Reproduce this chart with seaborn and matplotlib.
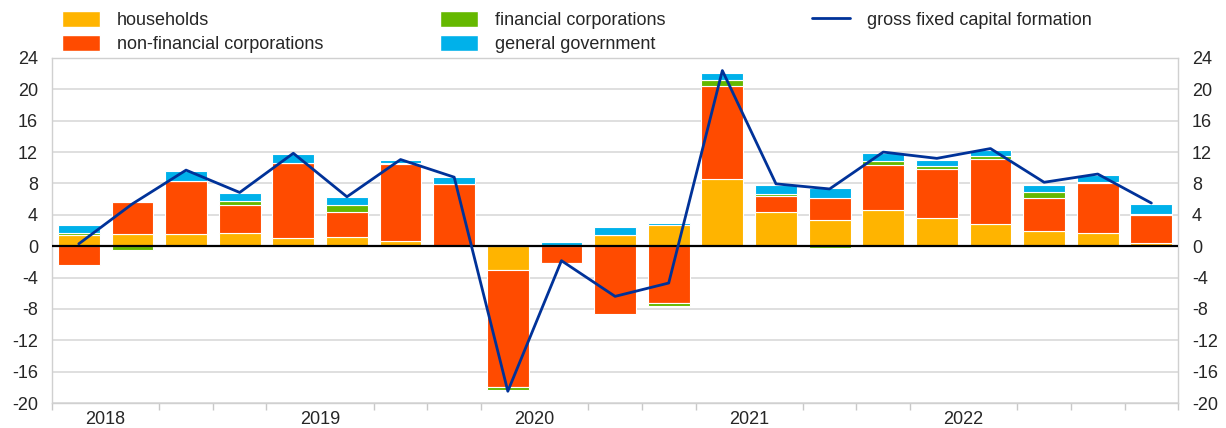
import numpy as np
import matplotlib
matplotlib.use("Agg")
import matplotlib.pyplot as plt
import seaborn as sns
from matplotlib.patches import Patch
from matplotlib.lines import Line2D

# quarterly contributions (percentage points) and total (%)
quarters = [f"{y}Q{q}" for y in range(2018, 2024) for q in range(1, 5)][:21]
households = [1.4, 1.55, 1.55, 1.65, 1.0, 1.2, 0.6, 0.05, -3.0, 0.0, 1.4, 2.7,
              8.6, 4.4, 3.4, 4.6, 3.6, 2.85, 1.9, 1.7, 0.35]
non_fin_corp = [-2.45, 4.05, 6.8, 3.6, 9.6, 3.15, 9.9, 7.9, -15.0, -2.1, -8.7, -7.3,
                11.8, 1.95, 2.7, 5.8, 6.3, 8.3, 4.3, 6.3, 3.6]
fin_corp = [0.3, -0.5, 0.0, 0.55, 0.0, 0.85, 0.1, 0.0, -0.4, -0.2, 0.0, -0.3,
            0.75, 0.3, -0.2, 0.45, 0.3, 0.4, 0.65, 0.2, 0.2]
gen_gov = [1.05, 0.2, 1.2, 0.95, 1.15, 1.05, 0.45, 0.9, 0.0, 0.55, 1.0, 0.3,
           1.0, 1.2, 1.35, 1.0, 0.85, 0.7, 1.0, 0.85, 1.2]
gfcf = [0.3, 5.4, 9.7, 6.85, 11.85, 6.3, 11.05, 8.8, -18.5, -1.85, -6.4, -4.7,
        22.4, 7.95, 7.3, 12.0, 11.2, 12.45, 8.15, 9.2, 5.5]
year_labels = ["2018", "2019", "2020", "2021", "2022"]

series = [
    ("households", households, "#FFB400"),
    ("non-financial corporations", non_fin_corp, "#FF4B00"),
    ("financial corporations", fin_corp, "#65B800"),
    ("general government", gen_gov, "#00B1EA"),
]
line_color = "#003299"

sns.set_style("white")
plt.rcParams["font.family"] = ["Liberation Sans", "DejaVu Sans"]
plt.rcParams["font.size"] = 13
plt.rcParams["axes.unicode_minus"] = False

fig = plt.figure(figsize=(12.26, 4.28), dpi=100)
ax = fig.add_axes([0.0424, 0.0584, 0.9186, 0.8061])

x = np.arange(len(quarters))
pos_base = np.zeros(len(x))
neg_base = np.zeros(len(x))
for name, vals, col in series:
    v = np.array(vals)
    bottom = np.where(v >= 0, pos_base, neg_base)
    ax.bar(x, v, bottom=bottom, width=0.78, color=col, edgecolor="white",
           linewidth=0.8, zorder=2)
    pos_base += np.where(v >= 0, v, 0)
    neg_base += np.where(v < 0, v, 0)

ax.axhline(0, color="black", linewidth=1.6, zorder=3)
sns.lineplot(x=x, y=gfcf, ax=ax, color=line_color, linewidth=2.0, zorder=4)

ax.set_xlim(-0.46, 20.48)
ax.set_ylim(-20, 24)
ax.set_yticks(np.arange(-20, 25, 4))
ax.yaxis.grid(True, color="#D9D9D9", linewidth=1.2, zorder=0)
ax.tick_params(axis="y", which="major", length=0, labelsize=13, labelright=True,
               right=False, pad=10)

ax.set_xticks(np.arange(len(year_labels)) * 4 + 0.5)
ax.set_xticklabels(year_labels)
ax.set_xticks(np.arange(-0.5, 20.6, 1), minor=True)
ax.tick_params(axis="x", which="major", length=0, labelsize=13, pad=6)
ax.tick_params(axis="x", which="minor", length=5, color="#C8C8C8", width=1,
               direction="out", bottom=True)

for s in ax.spines.values():
    s.set_color("#D0D0D0")
    s.set_linewidth(1)

# legends (three columns)
kw = dict(frameon=False, fontsize=13, handlelength=2.1, handleheight=0.95,
          handletextpad=0.95, labelspacing=0.35, borderpad=0, borderaxespad=0,
          loc="upper left")
h1 = [Patch(facecolor=series[i][2], edgecolor="white") for i in (0, 1)]
fig.legend(h1, [series[0][0], series[1][0]], bbox_to_anchor=(0.0506, 0.974), **kw)
h2 = [Patch(facecolor=series[i][2], edgecolor="white") for i in (2, 3)]
fig.legend(h2, [series[2][0], series[3][0]], bbox_to_anchor=(0.359, 0.974), **kw)
h3 = [Line2D([], [], color=line_color, linewidth=2.0)]
fig.legend(h3, ["gross fixed capital formation"], bbox_to_anchor=(0.6625, 0.974), **kw)

fig.savefig("out.png", dpi=100)
